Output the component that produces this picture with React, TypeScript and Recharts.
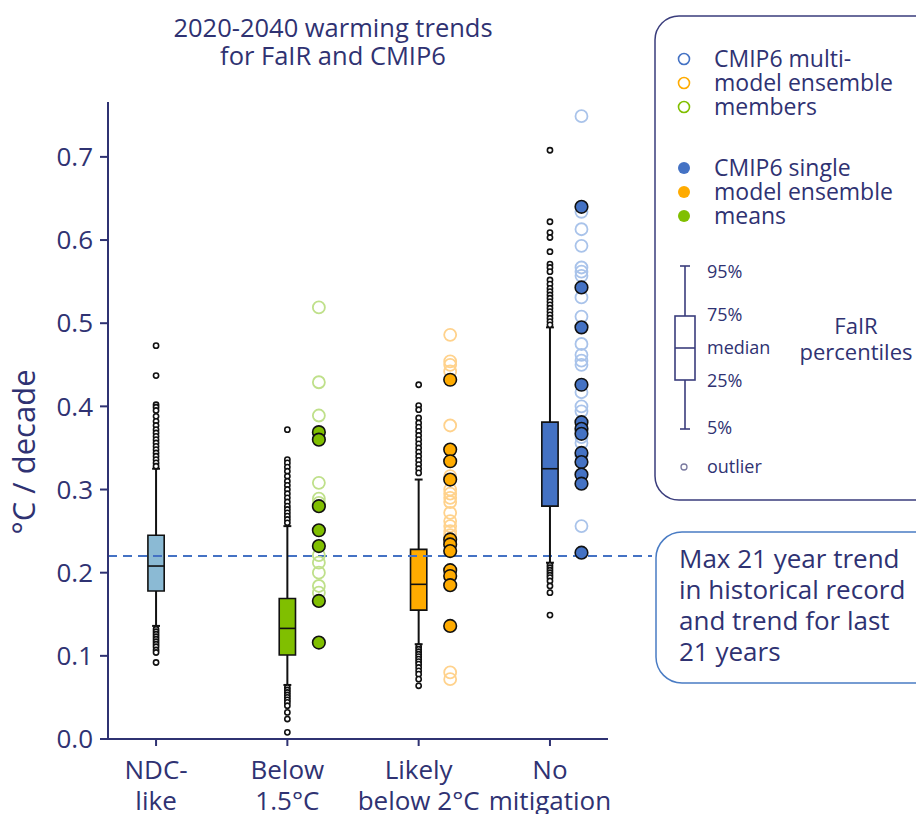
import React from 'react';
import { ComposedChart, XAxis, YAxis, Scatter, ReferenceArea, ReferenceLine, Label } from 'recharts';

const categories = ['NDC-like', 'Below 1.5°C', 'Likely below 2°C', 'No mitigation'];
const categoryLines = [['NDC-', 'like'], ['Below', '1.5°C'], ['Likely', 'below 2°C'], ['No', 'mitigation']];
const yTicks = [0, 0.1, 0.2, 0.3, 0.4, 0.5, 0.6, 0.7];

// FaIR percentiles per scenario
const p5 = [0.136, 0.065, 0.114, 0.212];
const p25 = [0.178, 0.101, 0.155, 0.28];
const median = [0.208, 0.133, 0.186, 0.325];
const p75 = [0.245, 0.169, 0.228, 0.381];
const p95 = [0.325, 0.256, 0.312, 0.495];

const outliersNdc = [0.473, 0.437, 0.402, 0.399, 0.395, 0.388, 0.382, 0.377, 0.372, 0.368, 0.364, 0.36, 0.356, 0.352, 0.348, 0.344, 0.34, 0.336, 0.332, 0.328,
  0.132, 0.129, 0.126, 0.123, 0.12, 0.117, 0.114, 0.111, 0.107, 0.104, 0.092];
const outliersBelow15 = [0.372, 0.336, 0.332, 0.327, 0.322, 0.316, 0.31, 0.305, 0.3, 0.295, 0.29, 0.285, 0.28, 0.276, 0.272, 0.268, 0.264, 0.26,
  0.062, 0.059, 0.056, 0.053, 0.05, 0.047, 0.044, 0.04, 0.032, 0.024, 0.008];
const outliersBelow2 = [0.426, 0.401, 0.396, 0.386, 0.38, 0.375, 0.37, 0.365, 0.36, 0.355, 0.35, 0.345, 0.34, 0.335, 0.33, 0.325, 0.32,
  0.111, 0.108, 0.105, 0.102, 0.099, 0.096, 0.093, 0.09, 0.086, 0.082, 0.078, 0.072, 0.064];
const outliersNoMit = [0.708, 0.622, 0.609, 0.603, 0.586, 0.571, 0.567, 0.562, 0.552, 0.547, 0.542, 0.538, 0.534, 0.53, 0.526, 0.522, 0.518, 0.514, 0.51, 0.506, 0.502, 0.498,
  0.209, 0.206, 0.203, 0.2, 0.197, 0.194, 0.19, 0.184, 0.176, 0.149];

// CMIP6 multi-model ensemble members (open) and single model means (filled)
const membersBelow15 = [0.519, 0.429, 0.389, 0.308, 0.289, 0.284, 0.221, 0.212, 0.2, 0.184, 0.176];
const meansBelow15 = [0.369, 0.36, 0.28, 0.251, 0.232, 0.166, 0.116];
const membersBelow2 = [0.486, 0.454, 0.45, 0.442, 0.377, 0.316, 0.3, 0.295, 0.29, 0.285, 0.272, 0.262, 0.256, 0.25, 0.245, 0.238, 0.08, 0.072];
const meansBelow2 = [0.432, 0.348, 0.334, 0.312, 0.24, 0.234, 0.226, 0.203, 0.196, 0.185, 0.136];
const membersNoMit = [0.749, 0.634, 0.613, 0.593, 0.567, 0.562, 0.557, 0.531, 0.508, 0.475, 0.462, 0.455, 0.45, 0.417, 0.4, 0.394, 0.37, 0.363, 0.356, 0.34, 0.256];
const meansNoMit = [0.64, 0.543, 0.495, 0.426, 0.381, 0.373, 0.367, 0.344, 0.333, 0.318, 0.307, 0.224];

const historicalTrend = 0.22;

const boxColors = ['#8bbad4', '#80bf00', '#ffab00', '#4472c4'];
const memberColors = ['#8bbad4', '#bfe08a', '#ffd28c', '#a9c3ea'];

const NAVY = '#2f3272';
const FONT = '"Open Sans", "Noto Sans", sans-serif';
const BOX_HALF = 0.062;
const CAP_HALF = 0.03;
const DOT_OFFSET = 0.24;

const toPoints = (cat: number, vals: number[], offset = 0) => vals.map((y) => ({ x: cat + offset, y }));

const outlierPoints = [outliersNdc, outliersBelow15, outliersBelow2, outliersNoMit].flatMap((v, i) => toPoints(i, v));
const memberSeries = [
  { cat: 1, vals: membersBelow15 },
  { cat: 2, vals: membersBelow2 },
  { cat: 3, vals: membersNoMit },
];
const meanSeries = [
  { cat: 1, vals: meansBelow15 },
  { cat: 2, vals: meansBelow2 },
  { cat: 3, vals: meansNoMit },
];

const OutlierDot = (props: any) => (
  <circle cx={props.cx} cy={props.cy} r={2.6} fill="#fff" stroke="#111" strokeWidth={1.6} />
);

const XTick = (props: any) => {
  const { x, y, payload } = props;
  const lines = categoryLines[Math.round(payload.value)] || [];
  return (
    <text x={x} y={y} textAnchor="middle" fill={NAVY} fontSize={26} fontFamily={FONT}>
      <tspan x={x} dy={33}>{lines[0]}</tspan>
      <tspan x={x} dy={31}>{lines[1]}</tspan>
    </text>
  );
};

const Overlay = () => (
  <svg width={916} height={814} style={{ position: 'absolute', left: 0, top: 0, pointerEvents: 'none' }} fontFamily={FONT}>
    <text x={333} y={37} textAnchor="middle" fontSize={25.5} fill={NAVY}>2020-2040 warming trends</text>
    <text x={333} y={65} textAnchor="middle" fontSize={25.5} fill={NAVY}>for FaIR and CMIP6</text>

    {/* legend */}
    <rect x={655} y={16} width={300} height={484} rx={24} fill="#fff" stroke="#3a3d7c" strokeWidth={1.5} />
    {[['CMIP6 multi-', '#4472c4'], ['model ensemble', '#ffab00'], ['members', '#80bf00']].map(([t, c], i) => (
      <g key={t}>
        <circle cx={684} cy={59 + i * 24} r={5.5} fill="#fff" stroke={c} strokeWidth={1.6} />
        <text x={714} y={67 + i * 24} fontSize={23} fill={NAVY}>{t}</text>
      </g>
    ))}
    {[['CMIP6 single', '#4472c4'], ['model ensemble', '#ffab00'], ['means', '#80bf00']].map(([t, c], i) => (
      <g key={t}>
        <circle cx={684} cy={168 + i * 24} r={6} fill={c} />
        <text x={714} y={176 + i * 24} fontSize={23} fill={NAVY}>{t}</text>
      </g>
    ))}
    <g stroke="#3a3d7c" strokeWidth={1.6} fill="none">
      <line x1={685} y1={266} x2={685} y2={316} />
      <line x1={685} y1={380} x2={685} y2={429} />
      <line x1={680} y1={266} x2={690} y2={266} />
      <line x1={680} y1={429} x2={690} y2={429} />
      <rect x={675} y={316} width={20} height={64} fill="#fff" />
      <line x1={675} y1={348} x2={695} y2={348} />
    </g>
    <text x={707} y={278} fontSize={18} fill={NAVY}>95%</text>
    <text x={707} y={321} fontSize={18} fill={NAVY}>75%</text>
    <text x={707} y={354} fontSize={18} fill={NAVY}>median</text>
    <text x={707} y={387} fontSize={18} fill={NAVY}>25%</text>
    <text x={707} y={434} fontSize={18} fill={NAVY}>5%</text>
    <text x={856} y={334} textAnchor="middle" fontSize={22} fill={NAVY}>FaIR</text>
    <text x={856} y={360} textAnchor="middle" fontSize={22} fill={NAVY}>percentiles</text>
    <circle cx={684} cy={467} r={3} fill="#fff" stroke="#7a7aa0" strokeWidth={1.3} />
    <text x={707} y={473} fontSize={18} fill={NAVY}>outlier</text>

    {/* historical record note */}
    <rect x={656} y={532} width={300} height={151} rx={26} fill="#fff" stroke="#4a7cc4" strokeWidth={1.5} />
    {['Max 21 year trend', 'in historical record', 'and trend for last', '21 years'].map((t, i) => (
      <text key={t} x={679} y={568 + i * 31} fontSize={26} fill={NAVY}>{t}</text>
    ))}
  </svg>
);

export default function App() {
  return (
    <div style={{ position: 'absolute', left: 0, top: 0, width: 916, height: 814, overflow: 'hidden', background: '#fff' }}>
      <ComposedChart width={916} height={814} margin={{ top: 102, right: 308, bottom: 0, left: 0 }}>
        <XAxis
          type="number"
          dataKey="x"
          domain={[-0.366, 3.442]}
          ticks={[0, 1, 2, 3]}
          allowDataOverflow
          stroke={NAVY}
          strokeWidth={2}
          tickSize={7}
          tickMargin={0}
          tick={<XTick />}
          height={75}
        />
        <YAxis
          type="number"
          dataKey="y"
          domain={[0, 0.766]}
          ticks={yTicks}
          allowDataOverflow
          width={108}
          stroke={NAVY}
          strokeWidth={2}
          tickSize={8}
          tickMargin={7}
          tickFormatter={(v: number) => v.toFixed(1)}
          tick={{ fill: NAVY, fontSize: 26, fontFamily: FONT }}
        >
          <Label
            content={() => (
              <text transform="translate(35,452) rotate(-90)" textAnchor="middle" fill={NAVY} fontSize={31} fontFamily={FONT}>
                °C / decade
              </text>
            )}
          />
        </YAxis>

        <ReferenceLine
          segment={[{ x: -0.366, y: historicalTrend }, { x: 3.777, y: historicalTrend }]}
          stroke="#4472c4"
          strokeWidth={2}
          strokeDasharray="9 6"
          ifOverflow="visible"
        />

        {categories.map((c, i) => (
          <ReferenceLine key={`wl-${c}`} segment={[{ x: i, y: p5[i] }, { x: i, y: p25[i] }]} stroke="#111" strokeWidth={2} />
        ))}
        {categories.map((c, i) => (
          <ReferenceLine key={`wh-${c}`} segment={[{ x: i, y: p75[i] }, { x: i, y: p95[i] }]} stroke="#111" strokeWidth={2} />
        ))}
        {categories.map((c, i) => (
          <ReferenceLine key={`cl-${c}`} segment={[{ x: i - CAP_HALF, y: p5[i] }, { x: i + CAP_HALF, y: p5[i] }]} stroke="#111" strokeWidth={2} />
        ))}
        {categories.map((c, i) => (
          <ReferenceLine key={`ch-${c}`} segment={[{ x: i - CAP_HALF, y: p95[i] }, { x: i + CAP_HALF, y: p95[i] }]} stroke="#111" strokeWidth={2} />
        ))}
        {categories.map((c, i) => (
          <ReferenceArea
            key={`box-${c}`}
            x1={i - BOX_HALF}
            x2={i + BOX_HALF}
            y1={p25[i]}
            y2={p75[i]}
            fill={boxColors[i]}
            fillOpacity={1}
            stroke="#111"
            strokeWidth={1.6}
          />
        ))}
        {categories.map((c, i) => (
          <ReferenceLine key={`med-${c}`} segment={[{ x: i - BOX_HALF, y: median[i] }, { x: i + BOX_HALF, y: median[i] }]} stroke="#111" strokeWidth={1.6} />
        ))}

        <Scatter data={outlierPoints} shape={<OutlierDot />} isAnimationActive={false} />

        {memberSeries.map((s) => (
          <Scatter
            key={`mem-${s.cat}`}
            data={toPoints(s.cat, s.vals, DOT_OFFSET)}
            isAnimationActive={false}
            shape={(p: any) => <circle cx={p.cx} cy={p.cy} r={6} fill="none" stroke={memberColors[s.cat]} strokeWidth={1.8} />}
          />
        ))}
        {meanSeries.map((s) => (
          <Scatter
            key={`mean-${s.cat}`}
            data={toPoints(s.cat, s.vals, DOT_OFFSET)}
            isAnimationActive={false}
            shape={(p: any) => <circle cx={p.cx} cy={p.cy} r={6.3} fill={boxColors[s.cat]} stroke="#111" strokeWidth={1.6} />}
          />
        ))}
      </ComposedChart>
      <Overlay />
    </div>
  );
}
